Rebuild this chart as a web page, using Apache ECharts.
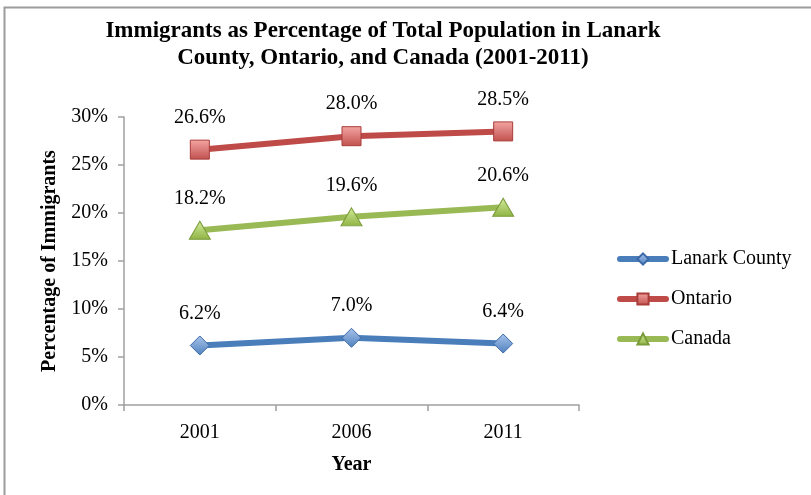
<!DOCTYPE html>
<html>
<head>
<meta charset="utf-8">
<script src="https://cdn.jsdelivr.net/npm/echarts@6/dist/echarts.min.js"></script>
<style>
  html, body { margin: 0; padding: 0; background: #fff; }
  #chart { width: 811px; height: 495px; }
</style>
</head>
<body>
<div id="chart"></div>
<script>
// Census years and immigrant share (%) for each region
const years = ['2001', '2006', '2011'];
const lanarkCounty = [6.2, 7.0, 6.4];
const ontario = [26.6, 28.0, 28.5];
const canada = [18.2, 19.6, 20.6];
const yTicks = [0, 5, 10, 15, 20, 25, 30];

const serif = '"Liberation Serif", "Times New Roman", serif';

function grad(top, bottom) {
  return new echarts.graphic.LinearGradient(0, 0, 0, 1, [
    { offset: 0, color: top },
    { offset: 1, color: bottom }
  ]);
}

function makeSeries(name, data, lineColor, symbol, size, fillTop, fillBottom, edge) {
  return {
    name: name,
    type: 'line',
    data: data,
    symbol: symbol,
    symbolSize: size,
    showAllSymbol: true,
    lineStyle: { color: lineColor, width: 6, cap: 'round' },
    itemStyle: { color: grad(fillTop, fillBottom), borderColor: edge, borderWidth: 1 },
    label: {
      show: true,
      position: 'top',
      distance: 12,
      formatter: p => p.value.toFixed(1) + '%',
      fontFamily: serif,
      fontSize: 20,
      color: '#000'
    },
    emphasis: { disabled: true },
    animation: false
  };
}

const chart = echarts.init(document.getElementById('chart'));
chart.setOption({
  animation: false,
  backgroundColor: '#fff',
  color: ['#4a7ebb', '#be4b48', '#98b954'],
  graphic: [{
    type: 'rect',
    shape: { x: 4.5, y: 7.5, width: 900, height: 600 },
    style: { fill: 'none', stroke: '#9c9c9c', lineWidth: 2 },
    silent: true
  }],
  title: {
    text: 'Immigrants as Percentage of Total Population in Lanark\nCounty, Ontario, and Canada (2001-2011)',
    left: 378,
    textAlign: 'center',
    top: 13,
    textStyle: {
      fontFamily: serif,
      fontWeight: 'bold',
      fontSize: 23,
      lineHeight: 27,
      color: '#000'
    }
  },
  legend: {
    orient: 'vertical',
    left: 612,
    top: 244,
    itemWidth: 46,
    itemHeight: 14,
    itemGap: 20,
    lineStyle: { width: 6, cap: 'round' },
    textStyle: { fontFamily: serif, fontSize: 20, color: '#000' },
    data: ['Lanark County', 'Ontario', 'Canada']
  },
  grid: { left: 124, right: 232, top: 117, bottom: 90, containLabel: false },
  xAxis: {
    type: 'category',
    data: years,
    boundaryGap: true,
    name: 'Year',
    nameLocation: 'middle',
    nameGap: 50,
    nameTextStyle: { fontFamily: serif, fontWeight: 'bold', fontSize: 20, color: '#000' },
    axisLine: { lineStyle: { color: '#a0a0a0', width: 1.5 } },
    axisTick: { show: true, length: 6, lineStyle: { color: '#a0a0a0', width: 1.5 } },
    axisLabel: { fontFamily: serif, fontSize: 20, color: '#000', margin: 18 },
    splitLine: { show: false }
  },
  yAxis: {
    type: 'value',
    min: yTicks[0],
    max: yTicks[yTicks.length - 1],
    interval: yTicks[1] - yTicks[0],
    name: 'Percentage of Immigrants',
    nameLocation: 'middle',
    nameGap: 64,
    nameTextStyle: { fontFamily: serif, fontWeight: 'bold', fontSize: 20, color: '#000' },
    axisLine: { show: true, lineStyle: { color: '#a0a0a0', width: 1.5 } },
    axisTick: { show: true, length: 6, lineStyle: { color: '#a0a0a0', width: 1.5 } },
    axisLabel: { fontFamily: serif, fontSize: 20, color: '#000', margin: 16, formatter: '{value}%' },
    splitLine: { show: false }
  },
  series: [
    makeSeries('Lanark County', lanarkCounty, '#4a7ebb', 'diamond', [19, 19], '#a9c4ec', '#4f81bd', '#3c6aa8'),
    makeSeries('Ontario', ontario, '#be4b48', 'rect', [19, 19], '#f4a6a4', '#c0504d', '#a83d3a'),
    makeSeries('Canada', canada, '#98b954', 'triangle', [21, 18], '#d2ec9c', '#8fb344', '#7a9a3a')
  ]
});
</script>
</body>
</html>
